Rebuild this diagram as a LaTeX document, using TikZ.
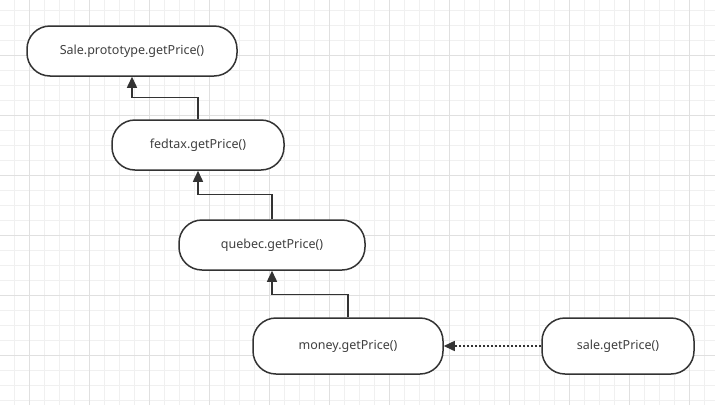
\documentclass[tikz,border=0pt]{standalone}
\usepackage{fontspec}
\setmainfont{Noto Sans}
\usetikzlibrary{arrows.meta}
\definecolor{gridminor}{HTML}{F0F0F0}
\definecolor{gridmajor}{HTML}{E0E0E0}
\definecolor{ink}{HTML}{333333}
\definecolor{txt}{HTML}{404040}
\tikzset{
  minorline/.style={draw=gridminor, line width=0.8pt},
  majorline/.style={draw=gridmajor, line width=0.9pt},
  box/.style={draw=ink, fill=white, line width=1.5pt, rounded corners=23pt,
    minimum height=50pt, text=txt, font=\fontsize{12.5}{14}\selectfont, inner sep=0pt},
  arr/.style={draw=ink, line width=1.5pt, -{Triangle[length=11pt,width=10pt]}},
}
\begin{document}
\begin{tikzpicture}[x=1pt,y=-1pt]
\useasboundingbox (0,0) rectangle (715,405);
\fill[white] (0,0) rectangle (715,405);
\foreach \x in {14,29,...,714} \draw[minorline] (\x,0) -- (\x,405);
\foreach \y in {10,25,...,404} \draw[minorline] (0,\y) -- (715,\y);
\foreach \x in {29,89,...,714} \draw[majorline] (\x,0) -- (\x,405);
\foreach \y in {55,115,...,404} \draw[majorline] (0,\y) -- (715,\y);

\node[box, minimum width=210pt] (sp) at (132,51) {Sale.prototype.getPrice()};
\node[box, minimum width=172pt] (fed) at (198,145) {fedtax.getPrice()};
\node[box, minimum width=186pt] (que) at (272,245) {quebec.getPrice()};
\node[box, minimum width=190pt, minimum height=56pt] (mon) at (348,346) {money.getPrice()};
\node[box, minimum width=152pt, minimum height=56pt] (sal) at (618,346) {sale.getPrice()};

\draw[arr] (fed.north) -- ++(0,-22) -| (sp.south);
\draw[arr] (que.north) -- ++(0,-25) -| (fed.south);
\draw[arr] (mon.north) -- ++(0,-23) -| (que.south);
\draw[arr, dash pattern=on 2pt off 2pt] (sal.west) -- (mon.east);
\end{tikzpicture}
\end{document}
